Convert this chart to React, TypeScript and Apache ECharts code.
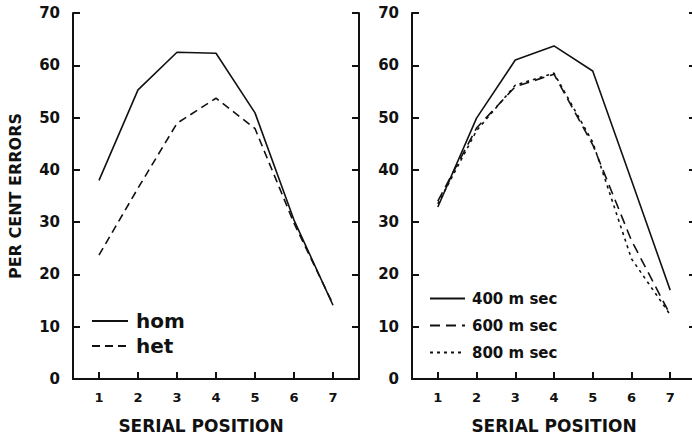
import React, { useEffect, useRef } from "react";
import * as echarts from "echarts";

// Serial positions 1..7 and per cent errors for each condition
const positions = [1, 2, 3, 4, 5, 6, 7];
const yMin = 0;
const yMax = 70;
const yStep = 10;

const homErrors = [38.0, 55.3, 62.5, 62.3, 50.9, 30.4, 14.1];
const hetErrors = [23.7, 36.5, 48.9, 53.7, 47.9, 29.8, 14.3];

const ms400Errors = [32.9, 49.9, 61.0, 63.7, 58.9, 38.0, 17.0];
const ms600Errors = [34.0, 48.0, 55.9, 58.3, 44.8, 26.5, 12.3];
const ms800Errors = [33.5, 47.5, 56.2, 58.5, 45.3, 23.0, 12.3];

const leftNames = ["hom", "het"];
const rightNames = ["400 m sec", "600 m sec", "800 m sec"];

const font = "DejaVu Sans";
const ink = "#111111";

const pairs = (vals: number[]) => positions.map((p, i) => [p, vals[i]]);

function xAxes(gridIndex: number, padRight: number) {
  const common = {
    type: "value" as const,
    gridIndex,
    min: 1 / 3,
    max: 7 + 2 / 3,
    splitLine: { show: false },
    axisLine: { show: true, lineStyle: { color: ink, width: 2 } },
  };
  return [
    {
      ...common,
      position: "bottom",
      axisTick: {
        show: true,
        inside: true,
        length: 7,
        customValues: positions,
        lineStyle: { color: ink, width: 2 },
      },
      axisLabel: {
        customValues: positions,
        margin: 12,
        color: ink,
        fontFamily: font,
        fontWeight: "bold",
        fontSize: 13,
      },
      name: "SERIAL POSITION",
      nameLocation: "middle",
      nameGap: 38,
      nameTextStyle: {
        color: ink,
        fontFamily: font,
        fontWeight: "bold",
        fontSize: 17,
        padding: [0, padRight, 0, 0],
      },
    },
    {
      ...common,
      position: "top",
      axisTick: { show: false },
      axisLabel: { show: false },
    },
  ];
}

function yAxes(gridIndex: number, withName: boolean) {
  const common = {
    type: "value" as const,
    gridIndex,
    min: yMin,
    max: yMax,
    interval: yStep,
    splitLine: { show: false },
    axisLine: { show: true, lineStyle: { color: ink, width: 2 } },
    axisTick: {
      show: true,
      inside: true,
      length: 7,
      lineStyle: { color: ink, width: 2 },
    },
  };
  return [
    {
      ...common,
      position: "left",
      axisLabel: {
        margin: 13,
        color: ink,
        fontFamily: font,
        fontWeight: "bold",
        fontSize: 15,
      },
      ...(withName
        ? {
            name: "PER CENT ERRORS",
            nameLocation: "middle",
            nameRotate: 90,
            nameGap: 50,
            nameTextStyle: {
              color: ink,
              fontFamily: font,
              fontWeight: "bold",
              fontSize: 16,
            },
          }
        : {}),
    },
    {
      ...common,
      position: "right",
      axisLabel: { show: false },
    },
  ];
}

function lineSeries(
  name: string,
  values: number[],
  axisIndex: number,
  dash: "solid" | number[]
) {
  return {
    type: "line",
    name,
    xAxisIndex: axisIndex,
    yAxisIndex: axisIndex,
    data: pairs(values),
    symbol: "none",
    showSymbol: false,
    silent: true,
    color: ink,
    itemStyle: { color: ink },
    lineStyle: { color: ink, width: 1.6, type: dash },
  };
}

export default function App() {
  const ref = useRef<HTMLDivElement>(null);

  useEffect(() => {
    if (!ref.current) return;
    const chart = echarts.init(ref.current, null, { renderer: "svg" });

    const legendBase = {
      orient: "vertical",
      selectedMode: false,
      itemStyle: { opacity: 0 },
    };

    const option = {
      animation: false,
      backgroundColor: "#ffffff",
      grid: [
        { left: 73, top: 13, width: 286, height: 366, outerBoundsMode: "none", containLabel: false },
        { left: 412, top: 13, width: 284, height: 366, outerBoundsMode: "none", containLabel: false },
      ],
      // axes 0/1 belong to the left panel (bottom, top), 2/3 to the right panel
      xAxis: [...xAxes(0, 30), ...xAxes(1, 0)],
      yAxis: [...yAxes(0, true), ...yAxes(1, false)],
      legend: [
        {
          ...legendBase,
          data: leftNames,
          left: 86,
          top: 306,
          itemWidth: 36,
          itemHeight: 14,
          itemGap: 5,
          textStyle: {
            color: ink,
            fontFamily: font,
            fontWeight: "bold",
            fontSize: 20,
            padding: [0, 0, 0, 3],
          },
        },
        {
          ...legendBase,
          data: rightNames,
          left: 424,
          top: 286,
          itemWidth: 35,
          itemHeight: 14,
          itemGap: 12,
          textStyle: {
            color: ink,
            fontFamily: font,
            fontWeight: "bold",
            fontSize: 15,
            padding: [0, 0, 0, 2],
          },
        },
      ],
      series: [
        lineSeries("hom", homErrors, 0, "solid"),
        lineSeries("het", hetErrors, 0, [8, 5]),
        lineSeries("400 m sec", ms400Errors, 2, "solid"),
        lineSeries("600 m sec", ms600Errors, 2, [10, 6]),
        lineSeries("800 m sec", ms800Errors, 2, [3, 4]),
      ],
    };

    chart.setOption(option as any);
    return () => chart.dispose();
  }, []);

  return (
    <div
      style={{
        position: "fixed",
        left: 0,
        top: 0,
        width: 692,
        height: 435,
        overflow: "hidden",
        background: "#ffffff",
      }}
    >
      <div ref={ref} style={{ width: 692, height: 435 }} />
    </div>
  );
}
